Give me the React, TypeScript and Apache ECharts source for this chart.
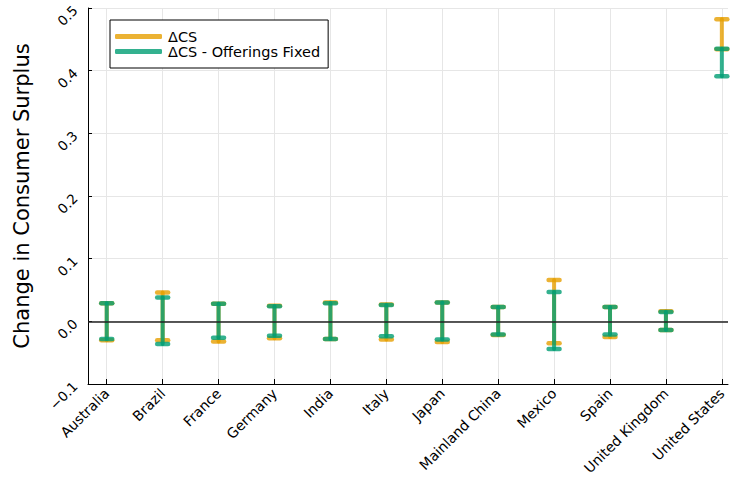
import React, { useEffect, useRef } from "react";
import * as echarts from "echarts";

const categories = [
  "Australia", "Brazil", "France", "Germany", "India", "Italy", "Japan",
  "Mainland China", "Mexico", "Spain", "United Kingdom", "United States",
];
const csLower = [-0.030, -0.030, -0.032, -0.027, -0.028, -0.029, -0.033, -0.022, -0.035, -0.025, -0.014, 0.434];
const csUpper = [0.029, 0.046, 0.028, 0.025, 0.030, 0.027, 0.030, 0.023, 0.066, 0.023, 0.016, 0.482];
const fixedLower = [-0.028, -0.036, -0.026, -0.023, -0.028, -0.024, -0.029, -0.021, -0.044, -0.021, -0.014, 0.391];
const fixedUpper = [0.029, 0.038, 0.028, 0.024, 0.029, 0.026, 0.030, 0.023, 0.047, 0.023, 0.015, 0.435];
const yTicks = [-0.1, 0.0, 0.1, 0.2, 0.3, 0.4, 0.5];

const ORANGE = "rgba(230,159,0,0.8)";
const GREEN = "rgba(0,158,115,0.8)";
const FONT = "DejaVu Sans";

function errorBarItem(color: string) {
  return (params: any, api: any) => {
    const x = api.value(0);
    const p1 = api.coord([x, api.value(1)]);
    const p2 = api.coord([x, api.value(2)]);
    const hw = 5.5;
    const style = { stroke: color, lineWidth: 4, lineCap: "round" as const, fill: "none" };
    return {
      type: "group",
      children: [
        { type: "line", shape: { x1: p1[0], y1: p1[1], x2: p2[0], y2: p2[1] }, style },
        { type: "line", shape: { x1: p1[0] - hw, y1: p1[1], x2: p1[0] + hw, y2: p1[1] }, style: { ...style, lineWidth: 4.5 } },
        { type: "line", shape: { x1: p2[0] - hw, y1: p2[1], x2: p2[0] + hw, y2: p2[1] }, style: { ...style, lineWidth: 4.5 } },
      ],
    };
  };
}

export default function App() {
  const ref = useRef<HTMLDivElement>(null);
  useEffect(() => {
    if (!ref.current) return;
    const chart = echarts.init(ref.current, null, { renderer: "svg" });
    const idx = categories.map((_, i) => i);
    const csData = idx.map((i) => [i, csLower[i], csUpper[i]]);
    const fixedData = idx.map((i) => [i, fixedLower[i], fixedUpper[i]]);
    chart.setOption({
      animation: false,
      backgroundColor: "#fff",
      textStyle: { fontFamily: FONT },
      grid: { left: 88, right: 2, top: 8, bottom: 101, containLabel: false, outerBoundsMode: "none" },
      legend: {
        left: 110,
        top: 20,
        orient: "vertical",
        backgroundColor: "#fff",
        borderColor: "#000",
        borderWidth: 1,
        borderRadius: 0,
        padding: [9, 8, 9, 5],
        itemGap: 0,
        itemWidth: 47,
        itemHeight: 5,
        icon: "roundRect",
        textStyle: { fontFamily: FONT, fontSize: 14.5, color: "#000", lineHeight: 15, padding: [0, 0, 0, 1] },
        data: [
          { name: "ΔCS", itemStyle: { color: ORANGE } },
          { name: "ΔCS - Offerings Fixed", itemStyle: { color: GREEN } },
        ],
      },
      xAxis: {
        type: "value",
        min: -0.335,
        max: 11.11,
        axisLine: { show: true, onZero: false, lineStyle: { color: "#000", width: 1 } },
        axisTick: { show: true, inside: true, length: 5, customValues: idx, lineStyle: { color: "#000" } },
        axisLabel: {
          customValues: idx,
          rotate: 45,
          margin: 7,
          fontFamily: FONT,
          fontSize: 14,
          color: "#000",
          formatter: (v: number) => categories[Math.round(v)] ?? "",
        },
        splitLine: { show: true, lineStyle: { color: "#e6e6e6", width: 1 } },
      },
      yAxis: {
        type: "value",
        min: -0.1,
        max: 0.5,
        interval: 0.1,
        name: "Change in Consumer Surplus",
        nameLocation: "middle",
        nameRotate: 90,
        nameGap: 56,
        nameTextStyle: { fontFamily: FONT, fontSize: 21, color: "#000" },
        axisLine: { show: true, onZero: false, lineStyle: { color: "#000", width: 1 } },
        axisTick: { show: true, inside: true, length: 4, lineStyle: { color: "#000" } },
        axisLabel: {
          rotate: 45,
          margin: 13,
          fontFamily: FONT,
          fontSize: 13.5,
          color: "#000",
          customValues: yTicks,
          formatter: (v: number) => v.toFixed(1).replace("-", "\u2212"),
        },
        splitLine: { show: true, lineStyle: { color: "#e6e6e6", width: 1 } },
      },
      series: [
        {
          name: "ΔCS",
          type: "custom",
          itemStyle: { color: ORANGE },
          renderItem: errorBarItem(ORANGE),
          encode: { x: 0, y: [1, 2] },
          data: csData,
          z: 2,
          markLine: {
            silent: true,
            symbol: "none",
            label: { show: false },
            lineStyle: { color: "#222", width: 1.5, type: "solid" },
            data: [{ yAxis: 0 }],
          },
        },
        {
          name: "ΔCS - Offerings Fixed",
          type: "custom",
          itemStyle: { color: GREEN },
          renderItem: errorBarItem(GREEN),
          encode: { x: 0, y: [1, 2] },
          data: fixedData,
          z: 3,
        },
      ],
    });
    return () => chart.dispose();
  }, []);
  return (
    <div
      ref={ref}
      style={{ position: "fixed", left: 0, top: 0, width: 730, height: 485, background: "#fff" }}
    />
  );
}
